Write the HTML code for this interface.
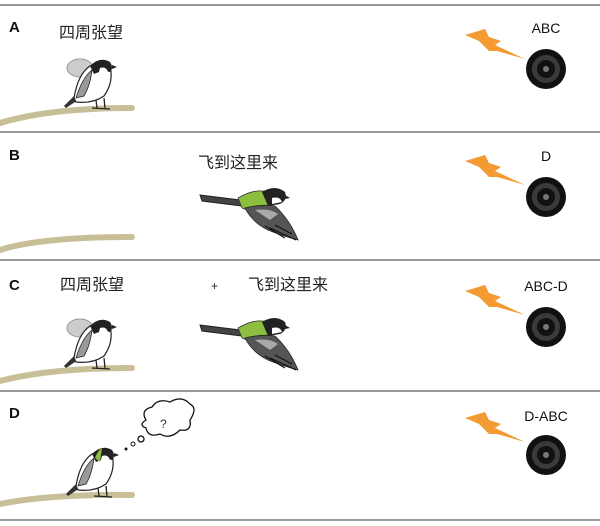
<!DOCTYPE html>
<html><head><meta charset="utf-8"><style>
body{margin:0;background:#fff;width:600px;height:526px;overflow:hidden}
svg{display:block}
text{font-family:"Liberation Sans","Noto Sans CJK SC",sans-serif}
</style></head><body>
<svg width="600" height="526" viewBox="0 0 600 526">
<defs>
<g id="fly">
 <path d="M0,5 L40,10 L42,16 L2,11 Z" fill="#444" stroke="#222" stroke-width="1"/>
 <path d="M38,8 Q55,-2 68,2 L70,20 Q55,24 42,18 Z" fill="#8cbf3f" stroke="#333" stroke-width="0.8"/>
 <path d="M62,2 Q75,-6 85,2 Q88,10 80,14 L68,16 Z" fill="#222"/>
 <path d="M72,8 Q80,6 82,12 L72,14 Z" fill="#fff"/>
 <path d="M85,5 L90,8 L85,9 Z" fill="#222"/>
 <path d="M45,18 Q60,14 75,16 Q90,30 98,50 Q80,45 68,40 Q52,32 45,18 Z" fill="#555" stroke="#222" stroke-width="0.8"/>
 <path d="M55,20 Q70,18 78,24 L70,30 Z" fill="#aaa"/>
 <path d="M70,38 L96,50 M75,35 L92,44 M65,36 L85,48" stroke="#111" stroke-width="1.2"/>
</g>
<g id="perch">
 <path d="M-18,44 L-8,34 L-4,38 L-16,46 Z" fill="#333"/>
 <path d="M-8,36 Q-4,12 8,4 Q20,-2 28,4 Q32,20 22,34 Q10,42 -6,40 Z" fill="#fff" stroke="#222" stroke-width="1.2"/>
 <path d="M-6,36 Q0,16 10,8 Q8,24 2,34 Z" fill="#999" stroke="#222" stroke-width="0.8"/>
 <path d="M8,4 Q18,-6 28,0 Q32,6 28,10 Q20,8 12,12 Z" fill="#222"/>
 <path d="M18,6 Q24,4 26,10 Q20,12 17,10 Z" fill="#fff"/>
 <path d="M30,3 L35,5 L30,7 Z" fill="#222"/>
 <path d="M14,38 L15,46 M22,36 L23,46 M10,46 L28,47" stroke="#222" stroke-width="1.3"/>
</g>
<path id="bolt" d="M0,8 L20,2 L24,10 L36,14 L30,18 L60,32 L32,24 L24,24 L14,14 Z" fill="#f39a33"/>
<g id="spk">
 <circle r="20" fill="#111"/><circle r="14" fill="#3a3a3a"/><circle r="9" fill="#111"/><circle r="3" fill="#777"/>
</g>
</defs>
<g stroke="#999" stroke-width="2">
<line x1="0" y1="5" x2="600" y2="5"/><line x1="0" y1="132" x2="600" y2="132"/>
<line x1="0" y1="260" x2="600" y2="260"/><line x1="0" y1="391" x2="600" y2="391"/>
<line x1="0" y1="520" x2="600" y2="520"/>
</g>
<g fill="none" stroke="#c8bf99" stroke-width="6" stroke-linecap="round">
<path d="M0,123 Q50,108 132,108"/>
<path d="M0,250 Q40,237 132,237"/>
<path d="M0,381 Q50,368 132,368"/>
<path d="M0,504 Q50,494 132,495"/>
</g>
<g font-weight="bold" font-size="15" fill="#111">
<text x="9" y="32">A</text><text x="9" y="160">B</text><text x="9" y="290">C</text><text x="9" y="418">D</text>
</g>
<g font-size="16" fill="#222">
<text x="59" y="38">四周张望</text>
<text x="198" y="168">飞到这里来</text>
<text x="60" y="290">四周张望</text>
<text x="211" y="290" font-size="12">+</text>
<text x="248" y="290">飞到这里来</text>
</g>
<g font-size="14" fill="#111" text-anchor="middle">
<text x="546" y="33">ABC</text><text x="546" y="161">D</text><text x="546" y="291">ABC-D</text><text x="546" y="421">D-ABC</text>
</g>
<use href="#bolt" x="465" y="27"/><use href="#bolt" x="465" y="153"/><use href="#bolt" x="465" y="283"/><use href="#bolt" x="465" y="410"/>
<use href="#spk" x="546" y="69"/><use href="#spk" x="546" y="197"/><use href="#spk" x="546" y="327"/><use href="#spk" x="546" y="455"/>
<use href="#fly" x="200" y="190"/><use href="#fly" x="200" y="320"/>
<g><ellipse cx="80" cy="68" rx="13" ry="9" fill="#ccc" stroke="#999"/><use href="#perch" x="82" y="62"/></g>
<g><ellipse cx="80" cy="328" rx="13" ry="9" fill="#ccc" stroke="#999"/><use href="#perch" x="82" y="322"/></g>
<use href="#perch" x="84" y="450"/>
<path d="M95,458 Q98,450 102,448 L100,462 Z" fill="#8cbf3f"/>
<circle cx="126" cy="449" r="1.5" fill="#111"/><circle cx="133" cy="444" r="2" fill="none" stroke="#111"/><circle cx="141" cy="439" r="3" fill="none" stroke="#111" stroke-width="1.3"/>
<path d="M146,420 Q140,410 152,407 Q158,398 170,402 Q182,395 190,404 Q198,408 190,420 Q192,432 180,430 Q170,440 160,434 Q148,438 146,428 Q138,425 146,420 Z" fill="#fff" stroke="#111" stroke-width="1.3"/>
<text x="160" y="428" font-size="12" fill="#333">?</text>
</svg>
</body></html>
